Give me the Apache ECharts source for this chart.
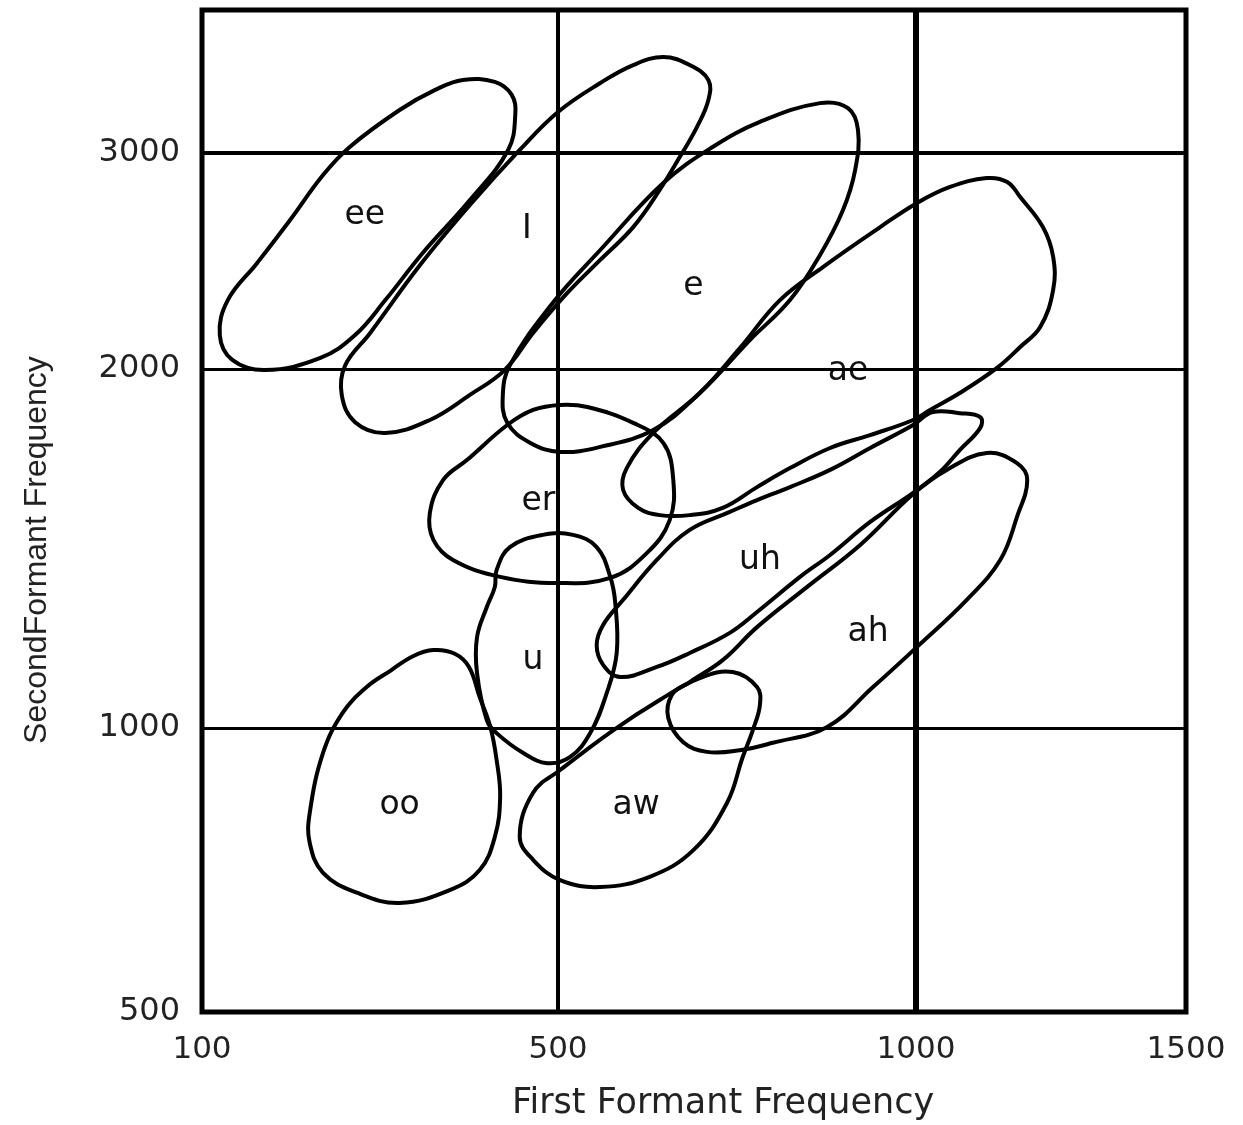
<!DOCTYPE html>
<html>
<head>
<meta charset="utf-8">
<title>Vowel formant regions</title>
<script src="https://cdn.jsdelivr.net/npm/echarts@6/dist/echarts.min.js"></script>
<style>
  html, body { margin: 0; padding: 0; background: #fff; }
  #chart { width: 1243px; height: 1125px; }
</style>
</head>
<body>
<div id="chart"></div>
<script>
// Tick labels (Hz)
const xTickLabels = [100, 500, 1000, 1500];
const yTickLabels = [500, 1000, 2000, 3000];
// Grid lines (Hz)
const xGridLines = [500, 1000];
const yGridLines = [1000, 2000, 3000];

// Vowel region outlines: first formant (F1) and second formant (F2), Hz
const eeF1 = [393, 429, 448, 452, 444, 401, 348, 306, 272, 233, 171, 134, 120, 129, 162, 199, 236, 266, 322, 362];
const eeF2 = [3338, 3329, 3269, 3176, 3014, 2782, 2537, 2319, 2157, 2051, 1997, 2042, 2157, 2319, 2491, 2690, 2898, 3028, 3199, 3292];

const iF1 = [647, 684, 710, 710, 694, 670, 642, 605, 559, 513, 472, 440, 401, 356, 306, 272, 257, 261, 289, 345, 401, 457, 500, 559, 605];
const iF2 = [3444, 3407, 3338, 3245, 3120, 2981, 2829, 2657, 2505, 2352, 2167, 1997, 1928, 1858, 1822, 1852, 1928, 2018, 2167, 2481, 2759, 3014, 3190, 3324, 3407];

const eF1 = [866, 905, 919, 915, 898, 866, 824, 768, 698, 633, 559, 503, 469, 443, 438, 446, 494, 559, 647, 716, 782];
const eF2 = [3231, 3208, 3106, 2921, 2736, 2528, 2319, 2134, 1933, 1830, 1783, 1769, 1794, 1850, 1928, 2018, 2306, 2551, 2861, 3028, 3144];

const aeF1 = [1131, 1169, 1193, 1235, 1254, 1254, 1230, 1193, 1150, 1081, 1026, 996, 936, 880, 824, 778, 730, 684, 642, 612, 591, 596, 633, 698, 754, 810, 870, 950, 1002, 1063];
const aeF2 = [2884, 2866, 2796, 2657, 2519, 2366, 2194, 2102, 2005, 1933, 1886, 1858, 1816, 1780, 1724, 1671, 1613, 1593, 1593, 1613, 1663, 1724, 1822, 1933, 2097, 2319, 2472, 2657, 2769, 2843];

const erF1 = [443, 472, 503, 541, 605, 647, 661, 656, 624, 573, 499, 435, 382, 360, 356, 371, 398];
const erF2 = [1844, 1886, 1900, 1894, 1850, 1794, 1691, 1579, 1487, 1418, 1404, 1421, 1468, 1524, 1599, 1691, 1747];

const uF1 = [431, 446, 483, 521, 554, 573, 580, 582, 568, 545, 517, 488, 461, 431, 420, 409, 409, 420, 429];
const uF2 = [1440, 1504, 1538, 1538, 1504, 1421, 1348, 1209, 1097, 991, 949, 938, 956, 991, 1022, 1153, 1253, 1337, 1393];

const ooF1 = [360, 384, 400, 412, 424, 431, 435, 429, 412, 379, 322, 274, 236, 221, 221, 236, 258, 285, 312, 337];
const ooF2 = [1217, 1207, 1170, 1086, 1003, 944, 879, 808, 750, 715, 692, 710, 745, 798, 850, 956, 1042, 1114, 1160, 1200];

const awF1 = [457, 472, 503, 577, 642, 698, 744, 778, 782, 772, 758, 736, 689, 628, 559, 503, 472];
const awF2 = [808, 886, 926, 996, 1078, 1139, 1156, 1114, 1064, 996, 949, 868, 785, 738, 720, 732, 768];

const ahF1 = [1057, 1131, 1187, 1206, 1187, 1156, 1094, 1002, 940, 876, 800, 754, 708, 675, 654, 659, 684, 730, 778, 848, 922, 996];
const ahF2 = [1719, 1766, 1738, 1691, 1588, 1468, 1357, 1226, 1114, 1003, 974, 961, 958, 975, 1028, 1092, 1128, 1189, 1281, 1393, 1510, 1652];

const uhF1 = [1031, 1081, 1119, 1119, 1081, 1044, 996, 936, 880, 838, 778, 740, 684, 638, 587, 563, 554, 563, 591, 638, 684, 740, 778, 824, 880, 936, 996];
const uhF2 = [1880, 1877, 1866, 1836, 1774, 1713, 1655, 1574, 1482, 1421, 1323, 1265, 1209, 1170, 1142, 1176, 1231, 1287, 1357, 1468, 1552, 1602, 1635, 1671, 1719, 1780, 1844];

// Vowel names and where they are written (Hz)
const vowelNames = ['ee', 'I', 'e', 'ae', 'er', 'uh', 'ah', 'u', 'oo', 'aw'];
const labelF1 = [283, 465, 689, 905, 478, 782, 933, 472, 322, 609];
const labelF2 = [2713, 2644, 2384, 1992, 1630, 1468, 1267, 1189, 864, 864];

// The frequency axes are drawn on a stretched, piecewise scale:
// each labelled frequency sits at a fixed place along the axis.
const xScaleHz = [100, 500, 1000, 1500];
const xScaleAt = [0, 356, 714, 984];
const yScaleHz = [500, 1000, 2000, 3000];
const yScaleAt = [0, 284, 643, 859];
const yAxisTop = 1002;

function piecewise(hz, at) {
  return function (v) {
    let i = 0;
    while (i < hz.length - 2 && v > hz[i + 1]) i++;
    return at[i] + (v - hz[i]) * (at[i + 1] - at[i]) / (hz[i + 1] - hz[i]);
  };
}
const fx = piecewise(xScaleHz, xScaleAt);
const fy = piecewise(yScaleHz, yScaleAt);

function tickText(ticks, f) {
  return function (v) {
    const t = ticks.find(function (k) { return Math.abs(f(k) - v) < 0.5; });
    return t === undefined ? '' : String(t);
  };
}

const regions = [
  [eeF1, eeF2], [iF1, iF2], [eF1, eF2], [aeF1, aeF2], [erF1, erF2],
  [uF1, uF2], [ooF1, ooF2], [awF1, awF2], [ahF1, ahF2], [uhF1, uhF2]
];

const chart = echarts.init(document.getElementById('chart'), null, { renderer: 'canvas' });

const gridMarks = xGridLines.map(function (v, i) {
  return { xAxis: fx(v), lineStyle: { width: i === 0 ? 4 : 6 } };
}).concat(yGridLines.map(function (v, i) {
  return { yAxis: fy(v), lineStyle: { width: i === 2 ? 4 : 3 } };
}));

chart.setOption({
  animation: false,
  backgroundColor: '#ffffff',
  grid: {
    left: 202, top: 10, right: 57, bottom: 113,
    show: true, borderColor: '#000', borderWidth: 5,
    containLabel: false, outerBoundsMode: 'none'
  },
  xAxis: {
    type: 'value', min: 0, max: xScaleAt[xScaleAt.length - 1],
    axisLine: { show: false }, axisTick: { show: false }, splitLine: { show: false },
    axisLabel: {
      customValues: xTickLabels.map(fx),
      formatter: tickText(xTickLabels, fx),
      margin: 22, fontFamily: 'DejaVu Sans', fontSize: 31, color: '#222',
      showMinLabel: true, showMaxLabel: true, hideOverlap: false
    }
  },
  yAxis: {
    type: 'value', min: 0, max: yAxisTop,
    axisLine: { show: false }, axisTick: { show: false }, splitLine: { show: false },
    axisLabel: {
      customValues: yTickLabels.map(fy),
      formatter: tickText(yTickLabels, fy),
      margin: 22, fontFamily: 'DejaVu Sans', fontSize: 32, color: '#222',
      showMinLabel: true, showMaxLabel: true, hideOverlap: false
    }
  },
  graphic: [
    {
      type: 'text', x: 723, y: 1104,
      style: {
        text: 'First Formant Frequency', fill: '#222',
        font: '35px "DejaVu Sans"', align: 'center', verticalAlign: 'middle'
      }
    },
    {
      type: 'text', x: 37, y: 550, rotation: Math.PI / 2,
      style: {
        text: 'SecondFormant Frequency', fill: '#222',
        font: '32px "Liberation Sans"', align: 'center', verticalAlign: 'middle'
      }
    }
  ],
  series: [
    {
      type: 'custom',
      coordinateSystem: 'cartesian2d',
      silent: true,
      clip: false,
      data: regions.map(function (r) { return [fx(r[0][0]), fy(r[1][0])]; }),
      renderItem: function (params, api) {
        const r = regions[params.dataIndex];
        const pts = r[0].map(function (f1, k) {
          return api.coord([fx(f1), fy(r[1][k])]);
        });
        return {
          type: 'polygon',
          z2: 10,
          shape: { points: pts, smooth: 0.4 },
          style: { fill: null, stroke: '#000', lineWidth: 4, lineJoin: 'round' }
        };
      }
    },
    {
      type: 'custom',
      coordinateSystem: 'cartesian2d',
      silent: true,
      clip: false,
      data: vowelNames.map(function (n, i) { return [fx(labelF1[i]), fy(labelF2[i])]; }),
      renderItem: function (params, api) {
        const p = api.coord([api.value(0), api.value(1)]);
        return {
          type: 'text',
          x: p[0], y: p[1],
          style: {
            text: vowelNames[params.dataIndex],
            fill: '#111',
            font: '33px "DejaVu Sans"',
            align: 'center', verticalAlign: 'middle'
          }
        };
      },
      markLine: {
        silent: true, symbol: 'none', animation: false,
        label: { show: false },
        lineStyle: { color: '#000', type: 'solid', width: 3 },
        data: gridMarks
      }
    }
  ]
});
</script>
</body>
</html>
